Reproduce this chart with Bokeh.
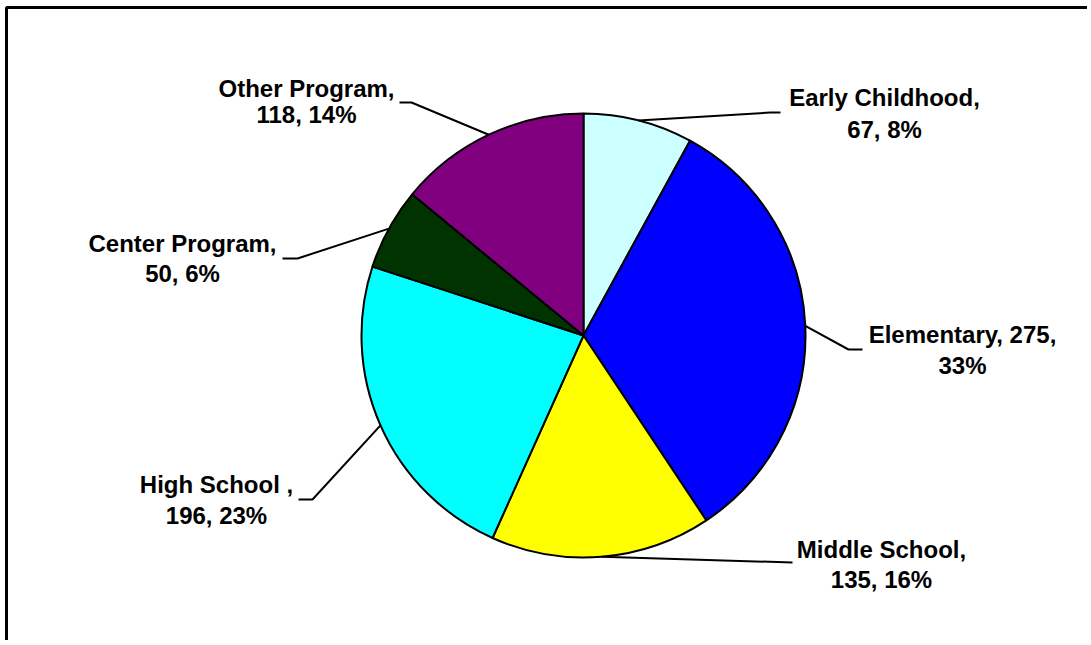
import math
from bokeh.plotting import figure
from bokeh.models import Range1d, ColumnDataSource
from bokeh.embed import file_html
from bokeh.resources import INLINE
from bokeh.core.properties import value

# ---- data ----
categories = ["Early Childhood", "Elementary", "Middle School", "High School ", "Center Program", "Other Program"]
counts = [67, 275, 135, 196, 50, 118]
colors = ["#CCFFFF", "#0000FF", "#FFFF00", "#00FFFF", "#003300", "#800080"]
break_after_value = [False, True, False, False, False, False]

# ---- layout (page pixel positions) ----
W, H = 1087, 640
def X(px): return px
def Y(py): return H - py

cx, cy, R = X(583), Y(335), 222
elbow = [(770, 112), (848, 349), (792, 562), (312, 499), (297, 258), (411, 102)]
tail = [(780, 112), (862, 349), (792, 562), (298, 499), (282, 258), (399, 102)]
text_cx = [884, 962, 881, 216, 182, 306]
line1_c = [97, 334, 549, 484, 243, 88]
line2_c = [129, 365, 579, 515, 273, 114]
FS = 24
BASE_OFF = -0.5  # empirical: rendered glyph centre vs baseline position

total = sum(counts)
starts, ends, mids = [], [], []
cum = 0
for c in counts:
    a0 = math.pi / 2 - 2 * math.pi * cum / total
    cum += c
    a1 = math.pi / 2 - 2 * math.pi * cum / total
    starts.append(a0); ends.append(a1); mids.append((a0 + a1) / 2)

p = figure(width=W, height=H, output_backend="svg", toolbar_location=None,
           x_range=Range1d(0, W), y_range=Range1d(0, H), min_border=0,
           background_fill_color="white", border_fill_color="white")
p.axis.visible = False
p.grid.visible = False
p.outline_line_color = None

# frame (left and top edges visible in the reference)
p.line([X(6), X(6), W], [0, Y(7), Y(7)], line_color="black", line_width=3)

src = ColumnDataSource(dict(start=starts, end=ends, color=colors))
p.wedge(x=cx, y=cy, radius=R, start_angle="start", end_angle="end", direction="clock",
        fill_color="color", line_color="black", line_width=2, source=src)

for i, name in enumerate(categories):
    pct = round(100 * counts[i] / total)
    if break_after_value[i]:
        l1, l2 = f"{name}, {counts[i]},", f"{pct}%"
    else:
        l1, l2 = f"{name},", f"{counts[i]}, {pct}%"
    ex = cx + R * math.cos(mids[i])
    ey = cy + R * math.sin(mids[i])
    p.line([ex, X(elbow[i][0]), X(tail[i][0])], [ey, Y(elbow[i][1]), Y(tail[i][1])],
           line_color="black", line_width=2)
    ys = [Y(line1_c[i] + BASE_OFF), Y(line2_c[i] + BASE_OFF)]
    p.text(x=[X(text_cx[i])] * 2, y=ys, text=[l1, l2], text_align="center",
           text_baseline="alphabetic", text_font=value("Liberation Sans"),
           text_font_style="bold", text_font_size=f"{FS}px", text_color="black")

open("out.html", "w").write(file_html(p, INLINE))
